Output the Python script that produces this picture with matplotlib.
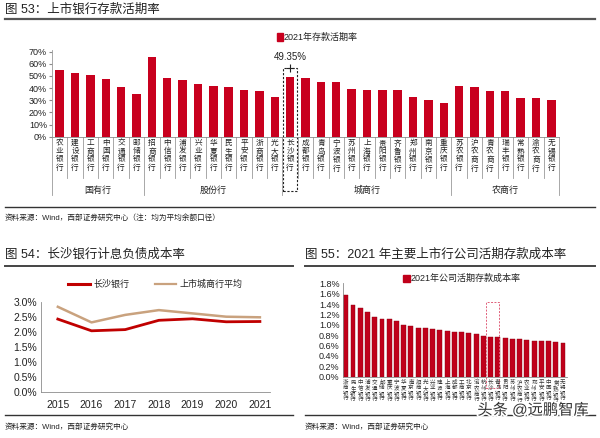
import matplotlib
matplotlib.use("Agg")
import matplotlib.pyplot as plt
import matplotlib.transforms as mtransforms
import matplotlib.patheffects as pe
from matplotlib.patches import Rectangle
from matplotlib.lines import Line2D
from matplotlib.ticker import FuncFormatter

plt.rcParams['font.family'] = ['Liberation Sans', 'Noto Sans CJK SC', 'DejaVu Sans']

# ---- data: 图53 上市银行存款活期率 (%)
banks53 = ["农业银行", "建设银行", "工商银行", "中国银行", "交通银行", "邮储银行",
           "招商银行", "中信银行", "浦发银行", "兴业银行", "华夏银行", "民生银行",
           "平安银行", "浙商银行", "光大银行",
           "长沙银行", "成都银行", "青岛银行", "宁波银行", "苏州银行", "上海银行",
           "贵阳银行", "齐鲁银行", "郑州银行", "南京银行", "重庆银行",
           "苏农银行", "沪农商行", "青农商行", "瑞丰银行", "常熟银行", "渝农商行", "无锡银行"]
rate53 = [54.9, 52.7, 51.1, 47.8, 40.9, 35.4,
          65.4, 48.6, 47.0, 43.7, 42.0, 41.2, 38.5, 37.4, 32.4,
          49.35, 48.4, 45.4, 45.2, 39.4, 38.8, 38.6, 38.1, 32.3, 30.0, 27.5,
          41.5, 40.7, 37.8, 37.8, 31.8, 31.8, 30.1]
group_names = ["国有行", "股份行", "城商行", "农商行"]
group_sizes = [6, 9, 11, 7]
highlight53 = "长沙银行"

# ---- data: 图54 长沙银行计息负债成本率 (%)
years = ["2015", "2016", "2017", "2018", "2019", "2020", "2021"]
changsha = [2.42, 2.03, 2.07, 2.38, 2.43, 2.33, 2.34]
city_avg = [2.83, 2.31, 2.56, 2.72, 2.61, 2.50, 2.48]

# ---- data: 图55 2021年公司活期存款成本率 (%)
banks55 = ["浙商银行", "民生银行", "中信银行", "浦发银行", "交通银行", "邮储银行",
           "重庆银行", "宁波银行", "华夏银行", "南京银行", "招商银行", "光大银行",
           "兴业银行", "建设银行", "上海银行", "成都银行", "工商银行", "北京银行",
           "渝农商行", "杭州银行", "长沙银行", "青岛银行", "贵阳银行", "苏州银行",
           "沪农商行", "农业银行", "郑州银行", "平安银行", "中国银行", "常熟银行", "无锡银行"]
cost55 = [1.57, 1.39, 1.32, 1.25, 1.15, 1.12, 1.12, 1.07, 1.00, 0.97, 0.94, 0.93,
          0.91, 0.90, 0.89, 0.87, 0.86, 0.84, 0.82, 0.78, 0.76, 0.76, 0.75, 0.73,
          0.72, 0.70, 0.69, 0.68, 0.68, 0.66, 0.64]
highlight55 = 20

W, H = 600, 438
fig = plt.figure(figsize=(6, 4.38), dpi=100)


def rect(l, t, r, b):
    return [l / W, 1 - b / H, (r - l) / W, (b - t) / H]


def fy(py):
    return 1 - py / H


def fx(px):
    return px / W


def hline(x0, x1, y, lw, color):
    fig.add_artist(Line2D([fx(x0), fx(x1)], [fy(y), fy(y)], lw=lw, color=color))


RED = "#C8001E"
GRAY = "#8c8c8c"
TXT = "#222222"

# ================= 图53 =================
fig.text(fx(5), fy(10), "图 53：上市银行存款活期率", fontsize=9, va="center", color=TXT)
hline(5, 595, 18.5, 1.6, "#555555")

ax1 = fig.add_axes(rect(52, 51.7, 559, 136.7))
x1 = range(len(banks53))
ax1.bar(x1, rate53, width=0.55, color=RED)
ax1.set_xlim(-0.5, len(banks53) - 0.5)
ax1.set_ylim(0, 70)
ax1.set_yticks(range(0, 71, 10))
ax1.yaxis.set_major_formatter(FuncFormatter(lambda v, p: "%d%%" % v))
ax1.tick_params(axis="y", length=2, labelsize=6.5, pad=1.5, color=GRAY, labelcolor=TXT)
ax1.tick_params(axis="x", length=0, labelbottom=False)
for s in ["top", "right", "left"]:
    ax1.spines[s].set_visible(False)
ax1.spines["bottom"].set_color(GRAY)
ax1.spines["bottom"].set_linewidth(0.6)

tr1 = mtransforms.blended_transform_factory(ax1.transData, fig.transFigure)
for i, name in enumerate(banks53):
    ax1.text(i, fy(140), "\n".join(name), transform=tr1, ha="center", va="top",
             fontsize=5.5, linespacing=1.2, color=TXT)
# separators between categories and groups
bounds = [sum(group_sizes[:k]) - 0.5 for k in range(len(group_sizes) + 1)]
for i in range(len(banks53) + 1):
    b = i - 0.5
    bottom = 195 if b in bounds else 178
    ax1.add_line(Line2D([b, b], [fy(136.7), fy(bottom)], transform=tr1, lw=0.6,
                        color="#9a9a9a", clip_on=False))
ax1.add_line(Line2D([-0.5, -0.5], [fy(50), fy(136.7)], transform=tr1, lw=0.6,
                    color="#9a9a9a", clip_on=False))
start = 0
for gname, gsize in zip(group_names, group_sizes):
    ax1.text(start + (gsize - 1) / 2, fy(190), gname, transform=tr1, ha="center",
             va="center", fontsize=6.5, color=TXT)
    start += gsize

hi = banks53.index(highlight53)
ax1.add_patch(Rectangle((hi - 0.45, fy(191)), 0.9, fy(68) - fy(191), transform=tr1,
                        fill=False, ls=(0, (2, 1.5)), lw=0.8, ec="#222222", clip_on=False))
ax1.plot([hi], [56.6], marker="+", ms=6, mew=0.8, color="#222222", clip_on=False)
ax1.text(hi, fy(57), "%.2f%%" % rate53[hi], transform=tr1, ha="center", va="center",
         fontsize=7, color=TXT)

fig.add_artist(Rectangle((fx(277), fy(40.5)), fx(6), fy(33.5) - fy(40.5), color=RED))
fig.text(fx(284), fy(37), "2021年存款活期率", fontsize=6.5, va="center", color=TXT)

hline(5, 595, 207, 1.0, "#333333")
fig.text(fx(5), fy(218), "资料来源：Wind，西部证券研究中心（注：均为平均余额口径）",
         fontsize=5.5, va="center", color=TXT)

# ================= 图54 =================
fig.text(fx(5), fy(255), "图 54：长沙银行计息负债成本率", fontsize=9, va="center", color=TXT)
hline(5, 293, 265.5, 1.4, "#444444")

ax2 = fig.add_axes(rect(41, 301.7, 270, 391.7))
xs = range(len(years))
ax2.plot(xs, city_avg, color="#C9A27E", lw=1.8, label="上市城商行平均")
ax2.plot(xs, changsha, color="#C00000", lw=2.0, label="长沙银行")
ax2.set_xlim(-0.5, 6.3)
ax2.set_ylim(0, 3.0)
ax2.set_xticks(list(xs))
ax2.set_xticklabels(years)
ax2.set_yticks([0, 0.5, 1.0, 1.5, 2.0, 2.5, 3.0])
ax2.yaxis.set_major_formatter(FuncFormatter(lambda v, p: "%.1f%%" % v))
ax2.tick_params(axis="y", length=0, labelsize=7.5, pad=3, labelcolor=TXT)
ax2.tick_params(axis="x", length=0, labelsize=7.5, pad=6, labelcolor=TXT)
for s in ["top", "right"]:
    ax2.spines[s].set_visible(False)
for s in ["left", "bottom"]:
    ax2.spines[s].set_color(GRAY)
    ax2.spines[s].set_linewidth(0.6)

fig.add_artist(Line2D([fx(68), fx(90)], [fy(284), fy(284)], color="#C00000", lw=2.2))
fig.text(fx(93), fy(284), "长沙银行", fontsize=6.5, va="center", color=TXT)
fig.add_artist(Line2D([fx(155), fx(176)], [fy(284), fy(284)], color="#C9A27E", lw=1.6))
fig.text(fx(179), fy(284), "上市城商行平均", fontsize=6.5, va="center", color=TXT)

hline(5, 293, 415, 1.0, "#333333")
fig.text(fx(5), fy(427), "资料来源：Wind，西部证券研究中心", fontsize=5.5, va="center", color=TXT)

# ================= 图55 =================
fig.text(fx(305), fy(255), "图 55：2021 年主要上市行公司活期存款成本率", fontsize=9,
         va="center", color=TXT)
hline(305, 595, 265.5, 1.4, "#444444")

ax3 = fig.add_axes(rect(342.5, 283.3, 567, 376.7))
x3 = range(len(banks55))
ax3.bar(x3, cost55, width=0.68, color="#C0001A", edgecolor="#8a0012", lw=0.3)
ax3.set_xlim(-0.45, len(banks55) - 0.45)
ax3.set_ylim(0, 1.8)
ax3.set_yticks([0.2 * k for k in range(10)])
ax3.yaxis.set_major_formatter(FuncFormatter(lambda v, p: "%.1f%%" % v))
ax3.tick_params(axis="y", length=0, labelsize=6.5, pad=2, labelcolor=TXT)
ax3.tick_params(axis="x", length=0, labelbottom=False)
for s in ["top", "right"]:
    ax3.spines[s].set_visible(False)
for s in ["left", "bottom"]:
    ax3.spines[s].set_color(GRAY)
    ax3.spines[s].set_linewidth(0.6)

tr3 = mtransforms.blended_transform_factory(ax3.transData, fig.transFigure)
for i, name in enumerate(banks55):
    ax3.text(i, fy(379.5), "\n".join(name), transform=tr3, ha="center", va="top",
             fontsize=4.0, linespacing=1.15, color="#333333")
ax3.add_patch(Rectangle((highlight55 - 0.65, fy(388)), 1.8, fy(302) - fy(388), transform=tr3,
                        fill=False, ls=(0, (2, 1.5)), lw=0.7, ec="#E0607A", clip_on=False))

fig.add_artist(Rectangle((fx(403), fy(281.5)), fx(7), fy(274.5) - fy(281.5), color="#C0001A"))
fig.text(fx(411), fy(278), "2021年公司活期存款成本率", fontsize=6.5, va="center", color=TXT)

hline(305, 595, 415, 1.0, "#333333")
fig.text(fx(305), fy(427), "资料来源：Wind，西部证券研究中心", fontsize=5.5, va="center", color=TXT)

fig.text(fx(533), fy(410), "头条 @远鹏智库", fontsize=11, ha="center", va="center",
         color="#333333", path_effects=[pe.withStroke(linewidth=2.5, foreground="white")])

fig.savefig("out.png", dpi=100)
